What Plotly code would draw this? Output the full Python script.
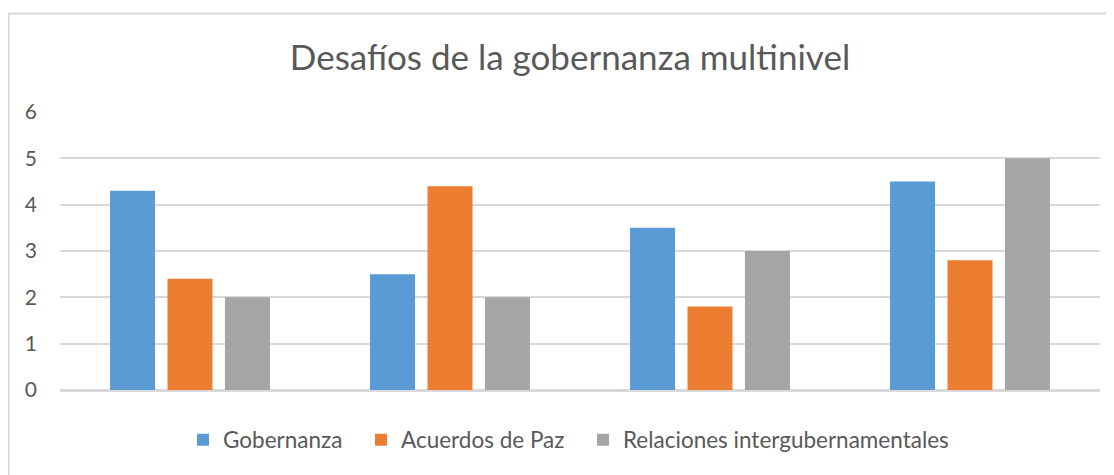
import plotly.graph_objects as go

categories = ["1", "2", "3", "4"]
gobernanza = [4.3, 2.5, 3.5, 4.5]
acuerdos_paz = [2.4, 4.4, 1.8, 2.8]
relaciones = [2, 2, 3, 5]

series = [
    ("Gobernanza", gobernanza, "#5B9BD5", "legend", 183),
    ("Acuerdos de Paz", acuerdos_paz, "#ED7D31", "legend2", 361),
    ("Relaciones intergubernamentales", relaciones, "#A5A5A5", "legend3", 583),
]

# page is drawn with an 8px body margin, so screen coords are shifted
OFF = 8
W, H = 1114, 475
L, R, T, B = 60 - OFF, 1114 - (1100 - OFF), 112 - OFF, 475 - (390 - OFF)
pw, ph = W - L - R, H - T - B


def px(x):
    return (x - OFF - L) / pw


def py(y):
    return (H - B - (y - OFF)) / ph


text_color = "#595959"
grid = "#D9D9D9"

fig = go.Figure()
legends = {}
for name, vals, color, leg, lx in series:
    fig.add_trace(go.Bar(x=categories, y=vals, name=name, marker_color=color,
                         marker_line_width=0, legend=leg))
    legends[leg] = dict(orientation="h", x=px(lx), xanchor="left",
                        y=py(440), yanchor="middle",
                        font=dict(size=22.5, color=text_color),
                        itemwidth=30, bgcolor="rgba(0,0,0,0)")

fig.update_layout(
    width=W, height=H,
    margin=dict(l=L, r=R, t=T, b=B, autoexpand=False),
    paper_bgcolor="white", plot_bgcolor="white",
    font=dict(family="Lato", color=text_color, size=19),
    title=dict(text="Desafíos de la gobernanza multinivel",
               x=(570 - OFF) / W, xanchor="center", y=1 - (58 - OFF) / H, yanchor="middle",
               font=dict(size=35, color=text_color)),
    barmode="group", bargap=0.337, bargroupgap=0.217,
    showlegend=True,
    xaxis=dict(showticklabels=False, showgrid=False, showline=True,
               linecolor=grid, linewidth=2, ticks=""),
    yaxis=dict(range=[0, 6], dtick=1, showgrid=True, gridcolor=grid, gridwidth=2,
               zeroline=True, zerolinecolor=grid, zerolinewidth=2,
               ticks="", ticklabelstandoff=22, tickfont=dict(size=21, color=text_color)),
    shapes=[
        dict(type="line", xref="paper", yref="paper", x0=px(8.5), x1=px(W + 20),
             y0=py(13.5), y1=py(13.5), line=dict(color=grid, width=2)),
        dict(type="line", xref="paper", yref="paper", x0=px(8.5), x1=px(8.5),
             y0=py(13.5), y1=py(H + 20), line=dict(color=grid, width=2)),
    ],
    **legends,
)

fig.write_html("out.html")
